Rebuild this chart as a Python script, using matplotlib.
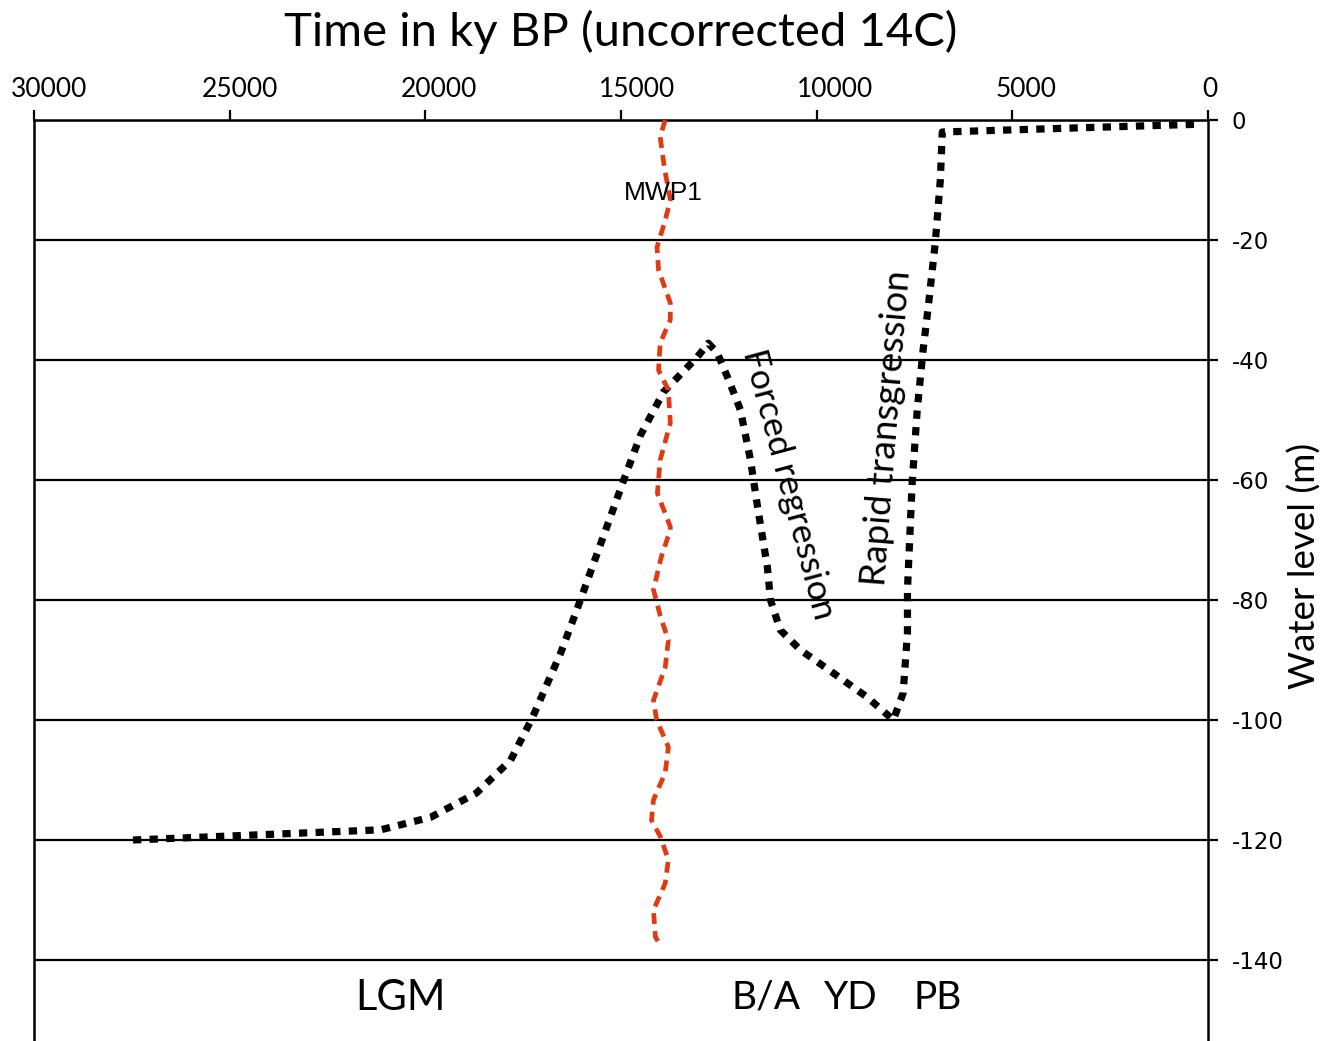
import matplotlib.pyplot as plt
from matplotlib.transforms import ScaledTranslation

# sea level curve (years BP, water level m)
level_age = [27470, 21140, 19860, 18700, 17820, 17270, 16540, 16160, 14930, 14500,
             13910, 13050, 12770, 12540, 12250, 11950, 11690, 11510, 11260, 11180,
             10930, 10420, 9570, 8710, 8040, 7790, 7680, 7680, 7560, 7430,
             7280, 7150, 6970, 6840, 6790, 2760, 200]
level_m = [-120.0, -118.3, -116.2, -112.2, -106.7, -99.7, -88.8, -82.2, -60.0, -52.5,
           -45.3, -39.5, -37.2, -38.8, -43.3, -48.3, -56.7, -64.5, -74.5, -80.0,
           -85.0, -88.3, -92.2, -96.2, -100.0, -95.5, -85.5, -78.3, -60.5, -48.3,
           -38.3, -31.2, -20.5, -10.0, -2.0, -1.2, -0.7]

# meltwater pulse 1 marker line
mwp_age = [13870, 14000, 13890, 13740, 13870, 14080, 14040, 13740, 13740, 14000,
           14040, 13790, 13740, 14000, 14070, 13740, 13740, 13970, 14170, 13990,
           13790, 13870, 14170, 14090, 13790, 13870, 14170, 14220, 13990, 13790,
           13870, 14170, 14120, 13990]
mwp_m = [0.0, -2.8, -8.0, -13.3, -16.7, -21.2, -25.0, -30.5, -33.3, -37.2,
         -41.7, -45.0, -50.5, -56.7, -62.2, -67.8, -68.3, -72.8, -78.3, -82.8,
         -86.7, -91.2, -96.7, -100.0, -104.5, -108.8, -113.3, -116.7, -119.5, -123.3,
         -127.2, -131.7, -136.2, -137.5]

x_ticks = [30000, 25000, 20000, 15000, 10000, 5000, 0]
y_ticks = [0, -20, -40, -60, -80, -100, -120, -140]

periods = ["LGM", "B/A", "YD", "PB"]
period_age = [20630, 11285, 9115, 6920]

fig = plt.figure(figsize=(13.39, 10.41), dpi=100)
ax = fig.add_axes([34 / 1339, 0, (1208 - 34) / 1339, (1041 - 120) / 1041])
ax.set_xlim(30000, 0)
ax.set_ylim(-153.5, 0)

ax.plot(level_age, level_m, color="black", lw=5.2, linestyle=(0, (1.15, 1.15)),
        dash_capstyle="butt", zorder=3)
ax.plot(mwp_age, mwp_m, color="#e03a12", lw=3.4, linestyle=(0, (2.3, 1.5)),
        dash_capstyle="butt", zorder=3)

ax.xaxis.tick_top()
ax.yaxis.tick_right()
ax.set_xticks(x_ticks)
ax.set_yticks(y_ticks)
ax.set_xticklabels([str(v) for v in x_ticks], family="Lato", fontsize=19)
ax.set_yticklabels([str(v) for v in y_ticks], family="DejaVu Sans", fontsize=16.5)
ax.tick_params(axis="x", direction="out", length=7, width=1.6, pad=6)
ax.tick_params(axis="y", direction="out", length=7, width=1.6, pad=10)
# labels in the original sit a little right of their ticks
shifts = [15, 10, 14, 16, 18, 14, 2]
for lab, dx in zip(ax.get_xticklabels(), shifts):
    lab.set_transform(lab.get_transform() + ScaledTranslation(dx / 100, 0, fig.dpi_scale_trans))
ax.yaxis.grid(True, color="black", lw=1.6)
for s in ["top", "left", "right"]:
    ax.spines[s].set_linewidth(1.8)
ax.spines["bottom"].set_visible(False)

ax.text(13915, -12.2, "MWP1", family="Liberation Sans", fontsize=19,
        ha="center", va="center")
ax.text(10720, -60.7, "Forced regression", family="Lato", fontsize=25.5,
        rotation=-75, ha="center", va="center", rotation_mode="anchor")
ax.text(8195, -51.3, "Rapid transgression", family="Lato", fontsize=26.5,
        rotation=85.5, ha="center", va="center", rotation_mode="anchor")
for name, age in zip(periods, period_age):
    ax.text(age, -146.3, name, family="Lato", fontsize=30 if name == "LGM" else 28,
            ha="center", va="center")

fig.text(621 / 1339, 1 - 32 / 1041, "Time in ky BP (uncorrected 14C)",
         family="Lato", fontsize=34, ha="center", va="center")
fig.text(1305 / 1339, 1 - 566 / 1041, "Water level (m)", family="Lato",
         fontsize=26.5, rotation=90, ha="center", va="center")

fig.savefig("out.png", dpi=100)
